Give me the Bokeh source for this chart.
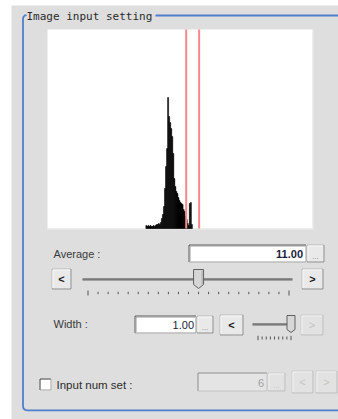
from bokeh.plotting import figure
from bokeh.models import Range1d
from bokeh.core.properties import value
from bokeh.embed import file_html
from bokeh.resources import INLINE

# ---------------- data ----------------
gray_levels = [95, 96, 97, 98, 99, 100, 101, 102, 103, 104, 105, 106, 107, 108, 109,
               110, 111, 112, 113, 114, 115, 116, 117, 118, 119, 120, 121, 122, 123, 124,
               125, 126, 127, 128, 129, 130, 131, 132, 133, 134, 135, 136, 137, 138, 139]
pixel_counts = [3, 2, 3, 2, 3, 2, 2, 3, 2, 3, 4, 4, 5, 4, 6,
                10, 14, 22, 40, 62, 80, 131, 112, 106, 100, 92, 75, 50, 42, 37,
                35, 31, 28, 26, 25, 24, 19, 17, 12, 9, 5, 3, 25, 26, 4]
threshold_levels = [134.0, 146.5]
level_domain = [0, 256]
count_domain = [0, 199]

title_text = "Image input setting"
average_label = "Average :"
average_value = 11.00
average_range = [0, 20]
width_label = "Width :"
width_value = 1.00
width_range = [0.0, 1.0]
width_steps = 8
input_label = "Input num set :"
input_num = 6

# ---------------- layout (page pixels) ----------------
FX0, FX1, FY0, FY1 = 0, 338, 0, 419          # figure area
BX0, BX1, BY0, BY1 = 47, 312, 29, 228        # histogram box

GREY = "#dedede"
BLUE = "#4f7fcc"
TXT = "#3a3a3a"
SANS = value("Liberation Sans")

p = figure(width=FX1 - FX0, height=FY1 - FY0,
           x_range=Range1d(FX0, FX1), y_range=Range1d(FY1, FY0),
           x_axis_type=None, y_axis_type=None, title=None,
           output_backend="svg", toolbar_location=None, min_border=0)
p.grid.visible = False
p.outline_line_color = None
p.background_fill_color = "white"
p.border_fill_color = "white"

# histogram scales mapped onto the box
kx = (level_domain[1] - level_domain[0]) / (BX1 - BX0)
ky = (count_domain[1] - count_domain[0]) / (BY1 - BY0)
p.extra_x_ranges = {"hist": Range1d(level_domain[0] - (BX0 - FX0) * kx,
                                    level_domain[1] + (FX1 - BX1) * kx)}
p.extra_y_ranges = {"hist": Range1d(count_domain[0] - (FY1 - BY1) * ky,
                                    count_domain[1] + (BY0 - FY0) * ky)}

# panel background
p.quad(left=[11], right=[340], top=[5], bottom=[420], fill_color=GREY, line_color=None)

rects = {"l": [], "r": [], "t": [], "b": [], "c": []}
segs = {"x0": [], "y0": [], "x1": [], "y1": [], "c": []}


def rect(x0, y0, x1, y1, fill):
    rects["l"].append(x0); rects["r"].append(x1)
    rects["t"].append(y0); rects["b"].append(y1); rects["c"].append(fill)


def seg(x0, y0, x1, y1, c):
    segs["x0"].append(x0); segs["y0"].append(y0)
    segs["x1"].append(x1); segs["y1"].append(y1); segs["c"].append(c)


def bevel(x0, y0, x1, y1, fill, tl, br):
    rect(x0, y0, x1, y1, fill)
    seg(x0 + 0.5, y0 + 0.5, x1 - 0.5, y0 + 0.5, tl)
    seg(x0 + 0.5, y0 + 0.5, x0 + 0.5, y1 - 0.5, tl)
    seg(x0 + 0.5, y1 - 0.5, x1 - 0.5, y1 - 0.5, br)
    seg(x1 - 0.5, y0 + 0.5, x1 - 0.5, y1 - 0.5, br)


def button(x0, y0, x1, y1, enabled=True):
    if enabled:
        bevel(x0, y0, x1, y1, "#e9e9e9", "#b4b4b4", "#8c8c8c")
        seg(x0 + 1.5, y0 + 1.5, x1 - 1.5, y0 + 1.5, "#fafafa")
        seg(x0 + 1.5, y0 + 1.5, x0 + 1.5, y1 - 1.5, "#fafafa")
    else:
        bevel(x0, y0, x1, y1, "#e2e2e2", "#cacaca", "#bdbdbd")
        seg(x0 + 1.5, y0 + 1.5, x1 - 1.5, y0 + 1.5, "#f2f2f2")
        seg(x0 + 1.5, y0 + 1.5, x0 + 1.5, y1 - 1.5, "#f2f2f2")


def field(x0, y0, x1, y1, enabled=True):
    if enabled:
        bevel(x0, y0, x1, y1, "white", "#4a4a4a", "#9a9a9a")
        seg(x0 + 1.5, y0 + 1.5, x1 - 1.5, y0 + 1.5, "#9a9a9a")
        seg(x0 + 1.5, y0 + 1.5, x0 + 1.5, y1 - 1.5, "#9a9a9a")
    else:
        bevel(x0, y0, x1, y1, "#e4e4e4", "#8c8c8c", "#c4c4c4")


# histogram box
rect(BX0, BY0, BX1, BY1, "white")
seg(BX1 + 0.5, BY0, BX1 + 0.5, BY1 + 1, "#ececec")
seg(BX0, BY1 + 0.5, BX1 + 1, BY1 + 0.5, "#ececec")

# Average row
field(188, 244, 306, 262)
button(306, 244, 324, 262)
button(51, 268, 71, 289)
button(301, 268, 323, 289)

# Width row
field(134, 315, 196, 333)
button(196, 315, 213, 333)
button(219, 314, 243, 335)
button(300, 314, 323, 335, enabled=False)

# Input num row
bevel(39, 378, 51, 390, "white", "#3a3a3a", "#a0a0a0")
field(197, 372, 267, 391, enabled=False)
button(267, 372, 285, 391, enabled=False)
button(291, 370, 313, 393, enabled=False)
button(315, 370, 337, 393, enabled=False)

# slider tracks
seg(82, 278.5, 292, 278.5, "#3c3c3c")
seg(82, 279.5, 292, 279.5, "#666666")
seg(252, 323.5, 290, 323.5, "#3c3c3c")
seg(252, 324.5, 290, 324.5, "#666666")

# slider ticks
AT0, AT1 = 87.5, 288.5
n_avg = int(average_range[1] - average_range[0])
for i in range(n_avg + 1):
    x = AT0 + (AT1 - AT0) * i / n_avg
    h = 2.5 if i in (0, n_avg) else 1.2
    seg(x, 292.5 - h, x, 292.5 + h, "#555555")
WT0, WT1 = 257.5, 290.5
for i in range(width_steps + 1):
    x = WT0 + (WT1 - WT0) * i / width_steps
    h = 2.2 if i in (0, width_steps) else 1.5
    seg(x, 337.5 - h, x, 337.5 + h, "#555555")

p.quad(left=rects["l"], right=rects["r"], top=rects["t"], bottom=rects["b"],
       fill_color=rects["c"], line_color=None)
p.segment(x0=segs["x0"], y0=segs["y0"], x1=segs["x1"], y1=segs["y1"],
          line_color=segs["c"], line_width=1)

# slider thumbs
ax = AT0 + (AT1 - AT0) * (average_value - average_range[0]) / (average_range[1] - average_range[0])
p.patch(x=[ax - 5, ax + 5, ax + 5, ax, ax - 5], y=[269, 269, 284, 288, 284],
        fill_color="#d6d6d6", line_color="#606060", line_width=1)
p.segment(x0=[ax + 3.5], y0=[270], x1=[ax + 3.5], y1=[284], line_color="#a8a8a8")
wx = WT0 + (WT1 - WT0) * (width_value - width_range[0]) / (width_range[1] - width_range[0])
p.patch(x=[wx - 4, wx + 4, wx + 4, wx, wx - 4], y=[315, 315, 329, 332, 329],
        fill_color="#d6d6d6", line_color="#606060", line_width=1)

# group frame
p.line(x=[155, 340], y=[15, 15], line_color=BLUE, line_width=1.8)
p.line(x=[26, 24, 22.8, 22.5, 22.5, 23, 24.5, 27, 340],
       y=[14.5, 15.2, 16.8, 19, 406, 408, 409.3, 409.8, 409.8],
       line_color=BLUE, line_width=1.8)

# histogram
p.vbar(x=[l + 0.5 for l in gray_levels], width=1, top=pixel_counts, bottom=0,
       x_range_name="hist", y_range_name="hist",
       fill_color="black", line_color="black", line_width=0.5)
p.segment(x0=threshold_levels, x1=threshold_levels,
          y0=[count_domain[0]] * len(threshold_levels),
          y1=[count_domain[1]] * len(threshold_levels),
          x_range_name="hist", y_range_name="hist",
          line_color="#f28a8a", line_width=2)

# texts
p.text(x=[26], y=[15.5], text=[title_text], text_font=value("DejaVu Sans Mono"),
       text_font_size="11px", text_baseline="middle", text_color="#2a2a2a")
p.text(x=[53, 53], y=[253, 323], text=[average_label, width_label], text_font=SANS,
       text_font_size="11px", text_baseline="middle", text_color=TXT)
p.text(x=[56], y=[384.5], text=[input_label], text_font=SANS,
       text_font_size="11.5px", text_baseline="middle", text_color="#2c2c2c")
p.text(x=[302.5], y=[253.5], text=[f"{average_value:.2f}"], text_font=SANS,
       text_font_size="11px", text_font_style="bold", text_align="right",
       text_baseline="middle", text_color="#1c1c3c")
p.text(x=[193.5], y=[324.5], text=[f"{width_value:.2f}"], text_font=SANS,
       text_font_size="11px", text_align="right", text_baseline="middle",
       text_color="#1c1c3c")
p.text(x=[263.5], y=[382], text=[str(input_num)], text_font=SANS,
       text_font_size="11px", text_align="right", text_baseline="middle",
       text_color="#a0a0a0")
# button glyphs
p.text(x=[61, 312, 231], y=[278.5, 278.5, 324.5], text=["<", ">", "<"],
       text_font=SANS, text_font_size="11px", text_font_style="bold",
       text_align="center", text_baseline="middle", text_color="#1a1a1a")
p.text(x=[311.5, 302, 326], y=[324.5, 381.5, 381.5], text=[">", "<", ">"],
       text_font=SANS, text_font_size="11px", text_align="center",
       text_baseline="middle", text_color="#c4c4c4")
p.text(x=[315, 204.5], y=[256, 327], text=["...", "..."], text_font=SANS,
       text_font_size="8px", text_align="center", text_baseline="middle",
       text_color="#8a8a8a")
p.text(x=[276], y=[385], text=["..."], text_font=SANS,
       text_font_size="8px", text_align="center", text_baseline="middle",
       text_color="#c0c0c0")

open("out.html", "w").write(file_html(p, INLINE))
